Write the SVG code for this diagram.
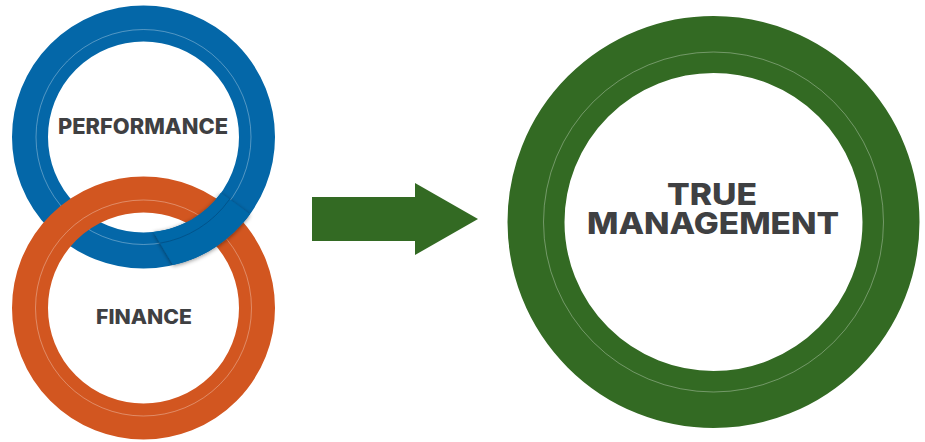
<svg xmlns="http://www.w3.org/2000/svg" width="925" height="442" viewBox="0 0 925 442">
  <defs>
    <style>
      .ring-blue { fill: none; stroke: #0467a8; stroke-width: 36; }
      .ring-orange { fill: none; stroke: #d25620; stroke-width: 36; }
      .ring-green { fill: none; stroke: #336a23; stroke-width: 57; }
      .hairline { fill: none; stroke: #ffffff; stroke-opacity: 0.45; stroke-width: 0.7; }
      .label { font-family: Inter, "Open Sans", "Liberation Sans", sans-serif; font-weight: 800; fill: #3f4042; text-anchor: middle; }
    </style>
    <filter id="lift" x="-30%" y="-30%" width="160%" height="160%">
      <feDropShadow dx="0" dy="1" stdDeviation="2.2" flood-color="#000000" flood-opacity="0.45"/>
    </filter>
  </defs>

  <rect width="925" height="442" fill="#ffffff"/>

  <!-- performance ring (drawn first, finance ring passes over its left side) -->
  <g id="node-performance">
    <circle class="ring-blue" cx="143.5" cy="137" r="113.5"/>
    <circle class="hairline" cx="143.5" cy="137" r="107.5"/>
    <text class="label" x="143" y="133.5" font-size="21" textLength="170" lengthAdjust="spacingAndGlyphs">PERFORMANCE</text>
  </g>

  <g id="node-finance">
    <circle class="ring-orange" cx="143.5" cy="308" r="113.5"/>
    <circle class="hairline" cx="143.5" cy="308" r="108"/>
    <text class="label" x="144" y="323.5" font-size="20" textLength="96" lengthAdjust="spacingAndGlyphs">FINANCE</text>
  </g>

  <!-- blue segment woven back over the finance ring on the right crossing -->
  <g id="node-performance-overlap" filter="url(#lift)">
    <path d="M220.8 193.1 L249.9 214.3 A131.5 131.5 0 0 1 173.1 265.1 L153.5 232.0 A95.5 95.5 0 0 0 220.8 193.1 Z" fill="#0467a8"/>
    <path d="M229.5 199.4 A107.5 107.5 0 0 1 159 243.4" fill="none" stroke="#02406b" stroke-opacity="0.6" stroke-width="0.8"/>
  </g>

  <g id="connectors">
    <path d="M312 197 H415 V183 L478 219 L415 255 V241 H312 Z" fill="#336a23"/>
  </g>

  <g id="node-true-management">
    <circle class="ring-green" cx="713.5" cy="222" r="177.5"/>
    <circle class="hairline" cx="713.5" cy="222" r="170"/>
    <text class="label" x="712" y="205" font-size="29.5" textLength="90" lengthAdjust="spacingAndGlyphs">TRUE</text>
    <text class="label" x="713" y="234" font-size="29.5" textLength="252" lengthAdjust="spacingAndGlyphs">MANAGEMENT</text>
  </g>
</svg>
